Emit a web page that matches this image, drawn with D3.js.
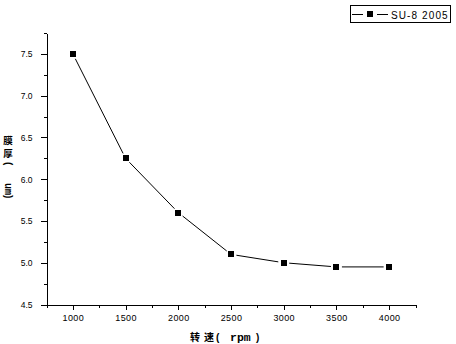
<!DOCTYPE html>
<html>
<head>
<meta charset="utf-8">
<script src="https://cdn.jsdelivr.net/npm/d3@7"></script>
<style>
  html, body { margin: 0; padding: 0; background: #fff; }
  svg { display: block; }
  text { fill: #000; }
</style>
</head>
<body>
<svg id="chart" width="456" height="344"></svg>
<script>
// Spin speed (rpm) vs. SU-8 2005 film thickness (um)
const speeds = [1000, 1500, 2000, 2500, 3000, 3500, 4000];
const thickness = [7.5, 6.25, 5.6, 5.1, 5.0, 4.95, 4.95];
const seriesName = "SU-8 2005";
const xMajorTicks = [1000, 1500, 2000, 2500, 3000, 3500, 4000];
const xMinorTicks = [750, 1250, 1750, 2250, 2750, 3250, 3750, 4250];
const yMajorTicks = [4.5, 5.0, 5.5, 6.0, 6.5, 7.0, 7.5];
const yMinorTicks = [4.75, 5.25, 5.75, 6.25, 6.75, 7.25, 7.75];

const svg = d3.select("#chart");
const FONT = "'Liberation Sans', Arial, sans-serif";
const CJK = "'Noto Sans CJK SC', sans-serif";
const MONO = "'Liberation Mono', 'DejaVu Sans Mono', monospace";

const x = d3.scaleLinear().domain([750, 4250]).range([46.5, 415.5]);
const y = d3.scaleLinear().domain([4.5, 7.75]).range([304.5, 33]);

// X axis: major ticks with labels, minor ticks without
const gx = svg.append("g").attr("transform", "translate(0,304.5)");
gx.append("g")
  .call(d3.axisBottom(x).tickValues(xMinorTicks).tickSize(3).tickSizeOuter(0).tickFormat(""))
  .call(g => g.select(".domain").remove());
gx.append("g")
  .call(d3.axisBottom(x).tickValues(xMajorTicks).tickSize(5).tickSizeOuter(0).tickPadding(5).tickFormat(d3.format("d")));

// Y axis
const gy = svg.append("g").attr("transform", "translate(46.5,0)");
gy.append("g")
  .call(d3.axisLeft(y).tickValues(yMinorTicks).tickSize(3).tickSizeOuter(0).tickFormat(""))
  .call(g => g.select(".domain").remove());
gy.append("g")
  .call(d3.axisLeft(y).tickValues(yMajorTicks).tickSize(6).tickSizeOuter(0).tickPadding(8).tickFormat(d3.format(".1f")));

svg.selectAll(".tick line, .domain")
  .attr("stroke", "#000").attr("stroke-width", 1).attr("shape-rendering", "crispEdges");
gx.selectAll("text").attr("font-family", FONT).attr("font-size", 9).attr("letter-spacing", 0.4);
gy.selectAll("text").attr("font-family", FONT).attr("font-size", 8.5).attr("dy", "0.35em");

// Connecting segments, stopping short of each marker
const pts = speeds.map((s, i) => [x(s), y(thickness[i])]);
const gap = 5.5;
const segs = d3.pairs(pts).map(([a, b]) => {
  const dx = b[0] - a[0], dy = b[1] - a[1];
  const len = Math.hypot(dx, dy);
  const ux = dx / len, uy = dy / len;
  return [a[0] + ux * gap, a[1] + uy * gap, b[0] - ux * gap, b[1] - uy * gap];
});
svg.append("g").selectAll("line").data(segs).join("line")
  .attr("x1", d => d[0]).attr("y1", d => d[1])
  .attr("x2", d => d[2]).attr("y2", d => d[3])
  .attr("stroke", "#000").attr("stroke-width", 1);

// Square markers
const ms = 6;
svg.append("g").selectAll("rect").data(pts).join("rect")
  .attr("x", d => Math.round(d[0] - ms / 2))
  .attr("y", d => Math.round(d[1] - ms / 2))
  .attr("width", ms).attr("height", ms)
  .attr("fill", "#000").attr("shape-rendering", "crispEdges");

// X axis title
const xt = svg.append("text").attr("y", 341).attr("font-weight", "bold");
xt.append("tspan").attr("x", 190).attr("font-family", CJK).attr("font-size", 10).text("转");
xt.append("tspan").attr("x", 204).attr("font-family", CJK).attr("font-size", 10).text("速");
xt.append("tspan").attr("x", 216).attr("font-family", FONT).attr("font-size", 10).text("(");
xt.append("tspan").attr("x", 230).attr("font-family", MONO).attr("font-size", 11.5).text("rpm");
xt.append("tspan").attr("x", 256).attr("font-family", FONT).attr("font-size", 10).text(")");

// Y axis title: stacked characters, then the unit turned sideways
const yt = svg.append("g").attr("font-weight", "bold");
yt.append("text").attr("x", 8).attr("y", 143.5).attr("text-anchor", "middle")
  .attr("font-family", CJK).attr("font-size", 9.5).text("膜");
yt.append("text").attr("x", 8).attr("y", 156.5).attr("text-anchor", "middle")
  .attr("font-family", CJK).attr("font-size", 9.5).text("厚");
const yu = yt.append("text").attr("transform", "translate(5,0) rotate(90)");
yu.append("tspan").attr("x", 162).attr("font-family", FONT).attr("font-size", 10).text("(");
yu.append("tspan").attr("x", 183).attr("font-family", MONO).attr("font-size", 10).text("um");
yu.append("tspan").attr("x", 195).attr("font-family", FONT).attr("font-size", 10).text(")");

// Legend
const lg = svg.append("g");
lg.append("rect").attr("x", 350.5).attr("y", 5.5).attr("width", 100).attr("height", 17)
  .attr("fill", "none").attr("stroke", "#000").attr("shape-rendering", "crispEdges");
lg.append("line").attr("x1", 352).attr("x2", 363).attr("y1", 14.5).attr("y2", 14.5)
  .attr("stroke", "#000").attr("shape-rendering", "crispEdges");
lg.append("line").attr("x1", 377).attr("x2", 388).attr("y1", 14.5).attr("y2", 14.5)
  .attr("stroke", "#000").attr("shape-rendering", "crispEdges");
lg.append("rect").attr("x", 367).attr("y", 11).attr("width", 6).attr("height", 6)
  .attr("fill", "#000").attr("shape-rendering", "crispEdges");
lg.append("text").attr("x", 391).attr("y", 18.5)
  .attr("font-family", FONT).attr("font-size", 10).attr("letter-spacing", 1.1)
  .text(seriesName);
</script>
</body>
</html>
